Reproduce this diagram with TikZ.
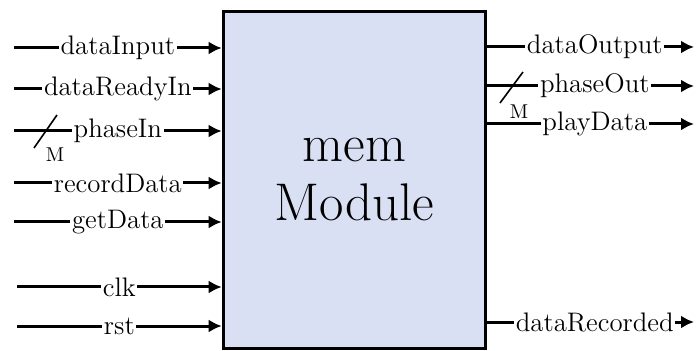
\documentclass[tikz,border=0pt]{standalone}
\usetikzlibrary{arrows.meta}
\definecolor{boxfill}{HTML}{D9E0F3}
\begin{document}
\begin{tikzpicture}[x=0.5pt,y=-0.5pt,
  sig/.style={line width=1.5pt,-{Latex[length=6.5pt,width=6.5pt]}},
  lbl/.style={fill=white,inner sep=0.8pt,font=\fontsize{13.4}{15}\selectfont},
  bus/.style={line width=0.8pt},
  busw/.style={inner sep=0pt,font=\fontsize{10}{11}\selectfont}]
\useasboundingbox (0,0) rectangle (699,351);
\node[draw,line width=1.8pt,fill=boxfill,minimum width=131pt,minimum height=168.5pt,
  align=center,inner sep=0pt,font=\fontsize{26.5}{29.5}\selectfont] (mem) at (354.5,180) {mem\\Module};
% inputs
\coordinate (iA) at (14,48);
\coordinate (iB) at (14,89);
\coordinate (iC) at (14,131);
\coordinate (iD) at (14,183);
\coordinate (iE) at (14,222);
\coordinate (iF) at (17,287);
\coordinate (iG) at (17,326);
\draw[sig] (iA) -- node[lbl]{dataInput} (iA -| mem.west);
\draw[sig] (iB) -- node[lbl]{dataReadyIn} (iB -| mem.west);
\draw[sig] (iC) -- node[lbl]{phaseIn} (iC -| mem.west);
\draw[sig] (iD) -- node[lbl]{recordData} (iD -| mem.west);
\draw[sig] (iE) -- node[lbl]{getData} (iE -| mem.west);
\draw[sig] (iF) -- node[lbl]{clk} (iF -| mem.west);
\draw[sig] (iG) -- node[lbl]{rst} (iG -| mem.west);
% outputs
\coordinate (oA) at (694,47);
\coordinate (oB) at (694,86);
\coordinate (oC) at (694,124);
\coordinate (oD) at (694,322);
\draw[sig] (oA -| mem.east) -- node[lbl,pos=0.52]{dataOutput} (oA);
\draw[sig] (oB -| mem.east) -- node[lbl,pos=0.52]{phaseOut} (oB);
\draw[sig] (oC -| mem.east) -- node[lbl,pos=0.52]{playData} (oC);
\draw[sig] (oD -| mem.east) -- node[lbl,pos=0.52]{dataRecorded} (oD);
% bus width marks
\coordinate (s1a) at (34,148);
\coordinate (s1b) at (57,115);
\draw[bus] (s1a) -- (s1b);
\node[busw] (m1) at (55,155) {M};
\coordinate (s2a) at (500,103);
\coordinate (s2b) at (523,72);
\draw[bus] (s2a) -- (s2b);
\node[busw] (m2) at (519,112) {M};
\end{tikzpicture}
\end{document}
